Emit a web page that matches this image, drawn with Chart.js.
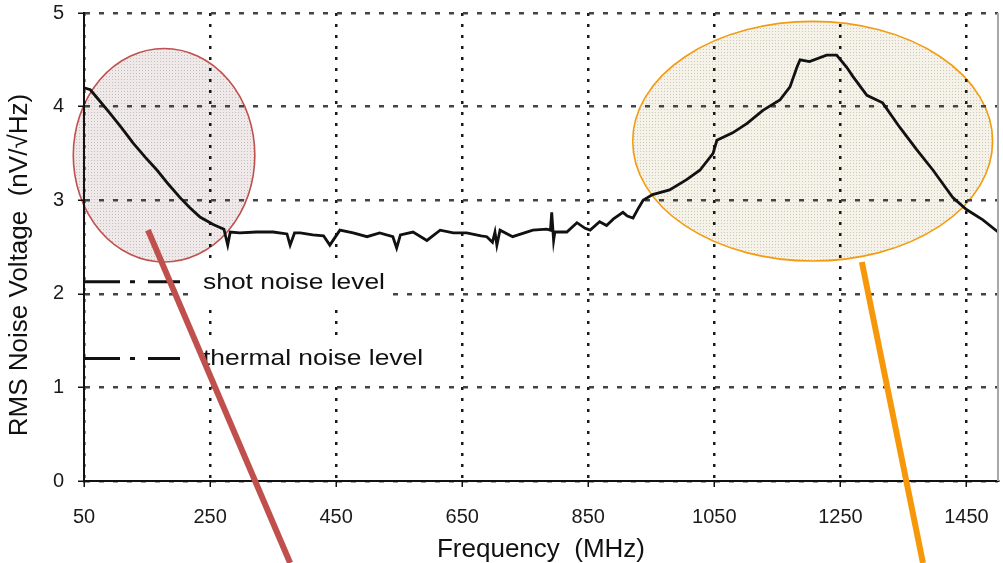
<!DOCTYPE html>
<html><head><meta charset="utf-8">
<script src="https://cdn.jsdelivr.net/npm/chart.js@4.4.1/dist/chart.umd.min.js"></script>
<style>html,body{margin:0;padding:0;background:#fff;}canvas{display:block;}</style>
</head><body>
<canvas id="c" width="1003" height="563"></canvas>
<script>
// ---- data ----
const freqMHz = [50,60,75,91,110,128,147,166,184,202,218,234,255,272,278,282,297,324,350,372,377,384,393,413,430,440,448,456,477,499,519,540,546,552,572,594,615,636,657,680,689,698,702,705,710,730,762,784,790,792,795,797,816,832,845,853,868,879,890,905,912,921,930,937,952,979,1006,1027,1048,1054,1079,1102,1127,1154,1170,1181,1186,1201,1228,1244,1260,1270,1292,1317,1344,1371,1397,1428,1450,1476,1500];
const rmsNoise = [4.20,4.18,4.06,3.93,3.77,3.61,3.46,3.32,3.17,3.03,2.92,2.82,2.74,2.69,2.52,2.66,2.65,2.66,2.66,2.64,2.52,2.65,2.65,2.63,2.62,2.52,2.60,2.68,2.65,2.61,2.65,2.61,2.49,2.63,2.66,2.57,2.68,2.65,2.65,2.62,2.61,2.55,2.66,2.52,2.68,2.61,2.68,2.69,2.68,2.87,2.57,2.66,2.66,2.76,2.70,2.68,2.77,2.73,2.80,2.87,2.83,2.81,2.92,3.00,3.06,3.11,3.22,3.32,3.50,3.64,3.72,3.82,3.96,4.07,4.21,4.42,4.50,4.48,4.55,4.55,4.42,4.32,4.12,4.04,3.78,3.54,3.32,3.03,2.90,2.79,2.66];
const xTickValues = [50,250,450,650,850,1050,1250,1450];
const yTickValues = [0,1,2,3,4,5];
const legendLabels = ['shot noise level','thermal noise level'];
const legendLevels = [2.13, 1.31];
const xTitle = 'Frequency  (MHz)';
const yTitle = 'RMS Noise Voltage  (nV/\u221AHz)     ';
// highlight annotations in data units: centre x, centre y, radius x, radius y
const highlightRed = [177, 3.48, 144, 1.14];
const highlightOrange = [1206, 3.63, 285.5, 1.28];
const pointerRed = [[151.5, 2.68], [377, -0.876]];
const pointerOrange = [[1284, 2.34], [1381, -0.876]];

const FONT = '"Liberation Sans", Arial, sans-serif';

function makePattern(ctx, base, dot) {
  const p = document.createElement('canvas');
  p.width = 3; p.height = 3;
  const g = p.getContext('2d');
  g.fillStyle = base; g.fillRect(0,0,3,3);
  g.fillStyle = dot; g.fillRect(1,1,1,1);
  return ctx.createPattern(p, 'repeat');
}

const annotations = {
  id: 'annotations',
  beforeDraw(chart) {
    const {ctx, scales:{x, y}} = chart;
    const ell = (e, base, dot, stroke) => {
      const cx = x.getPixelForValue(e[0]), cy = y.getPixelForValue(e[1]);
      const rx = Math.abs(x.getPixelForValue(e[0]+e[2]) - cx);
      const ry = Math.abs(y.getPixelForValue(e[1]+e[3]) - cy);
      ctx.save();
      ctx.beginPath(); ctx.ellipse(cx, cy, rx, ry, 0, 0, Math.PI*2);
      ctx.fillStyle = makePattern(ctx, base, dot); ctx.fill();
      ctx.lineWidth = 1.6; ctx.strokeStyle = stroke; ctx.stroke();
      ctx.restore();
    };
    ell(highlightRed, '#efe9e9', '#c6bebe', '#c0504d');
    ell(highlightOrange, '#f5f2ea', '#cfc8b4', '#f39c12');
  },
  afterDatasetsDraw(chart) {
    const {ctx, chartArea, scales:{x, y}} = chart;
    // right frame
    ctx.save();
    ctx.strokeStyle = '#a8a8a8'; ctx.lineWidth = 2;
    ctx.beginPath(); ctx.moveTo(chartArea.right, chartArea.top); ctx.lineTo(chartArea.right, chartArea.bottom); ctx.stroke();
    ctx.restore();
    // legend
    legendLabels.forEach((lab, i) => {
      const py = y.getPixelForValue(legendLevels[i]);
      ctx.save();
      ctx.font = '22px ' + FONT;
      const tx = chartArea.left + 119;
      const w = ctx.measureText(lab).width * 1.2;
      ctx.fillStyle = '#fff';
      ctx.fillRect(tx - 8, py - 23, w + 14, 44);
      ctx.fillStyle = '#111';
      ctx.textBaseline = 'middle';
      ctx.translate(tx, py); ctx.scale(1.2, 1);
      ctx.fillText(lab, 0, 1);
      ctx.restore();
      ctx.save();
      ctx.strokeStyle = '#111'; ctx.lineWidth = 3;
      ctx.setLineDash([35, 10, 5, 13, 32, 200]);
      ctx.beginPath(); ctx.moveTo(chartArea.left + 1, py); ctx.lineTo(chartArea.left + 97, py); ctx.stroke();
      ctx.restore();
    });
  },
  afterDraw(chart) {
    const {ctx, scales:{x, y}} = chart;
    const seg = (s, col) => {
      ctx.save();
      ctx.strokeStyle = col; ctx.lineWidth = 6; ctx.lineCap = 'butt';
      ctx.beginPath();
      ctx.moveTo(x.getPixelForValue(s[0][0]), y.getPixelForValue(s[0][1]));
      ctx.lineTo(x.getPixelForValue(s[1][0]), y.getPixelForValue(s[1][1]));
      ctx.stroke(); ctx.restore();
    };
    seg(pointerRed, '#c0504d');
    seg(pointerOrange, '#f7980a');
  }
};

new Chart(document.getElementById('c'), {
  type: 'line',
  data: {
    datasets: [{
      label: 'RMS noise voltage',
      data: freqMHz.map((f, i) => ({x: f, y: rmsNoise[i]})),
      borderColor: '#111', borderWidth: 2.8, pointRadius: 0, tension: 0, fill: false
    }]
  },
  options: {
    responsive: false, devicePixelRatio: 1, animation: false,
    layout: {padding: {top: 13, right: 5, left: 0, bottom: 0}},
    plugins: {legend: {display: false}, tooltip: {enabled: false}},
    scales: {
      x: {
        type: 'linear', min: 50, max: 1500,
        afterBuildTicks: s => { s.ticks = xTickValues.map(v => ({value: v})); },
        afterFit: s => { s.height = 82; s.paddingLeft = 0; s.paddingRight = 0; },
        grid: {color: '#1a1a1a', lineWidth: 2.5, drawTicks: true, tickLength: 6, tickColor: '#111', tickWidth: 1.5, tickBorderDash: []},
        border: {display: true, color: '#111', width: 2, dash: [3, 8]},
        ticks: {color: '#1a1a1a', font: {family: FONT, size: 20}, padding: 18, maxRotation: 0, autoSkip: false, callback: v => String(v)},
        title: {display: true, text: xTitle, color: '#111', font: {family: FONT, size: 26, lineHeight: 1}, padding: {top: 0, bottom: 0}}
      },
      y: {
        min: 0, max: 5,
        afterBuildTicks: s => { s.ticks = yTickValues.map(v => ({value: v})); },
        afterFit: s => { s.width = 84; s.paddingTop = 0; s.paddingBottom = 0; },
        grid: {color: '#444', lineWidth: 2.5, drawTicks: true, tickLength: 6, tickColor: '#111', tickWidth: 1.5, tickBorderDash: []},
        border: {display: true, color: '#111', width: 2, dash: [5, 9]},
        ticks: {color: '#1a1a1a', font: {family: FONT, size: 20}, padding: 14, callback: v => String(v)},
        title: {display: true, text: yTitle, color: '#111', font: {family: FONT, size: 26, lineHeight: 1}, padding: {top: 7, bottom: 0}}
      }
    }
  },
  plugins: [annotations]
});
</script>
</body></html>
